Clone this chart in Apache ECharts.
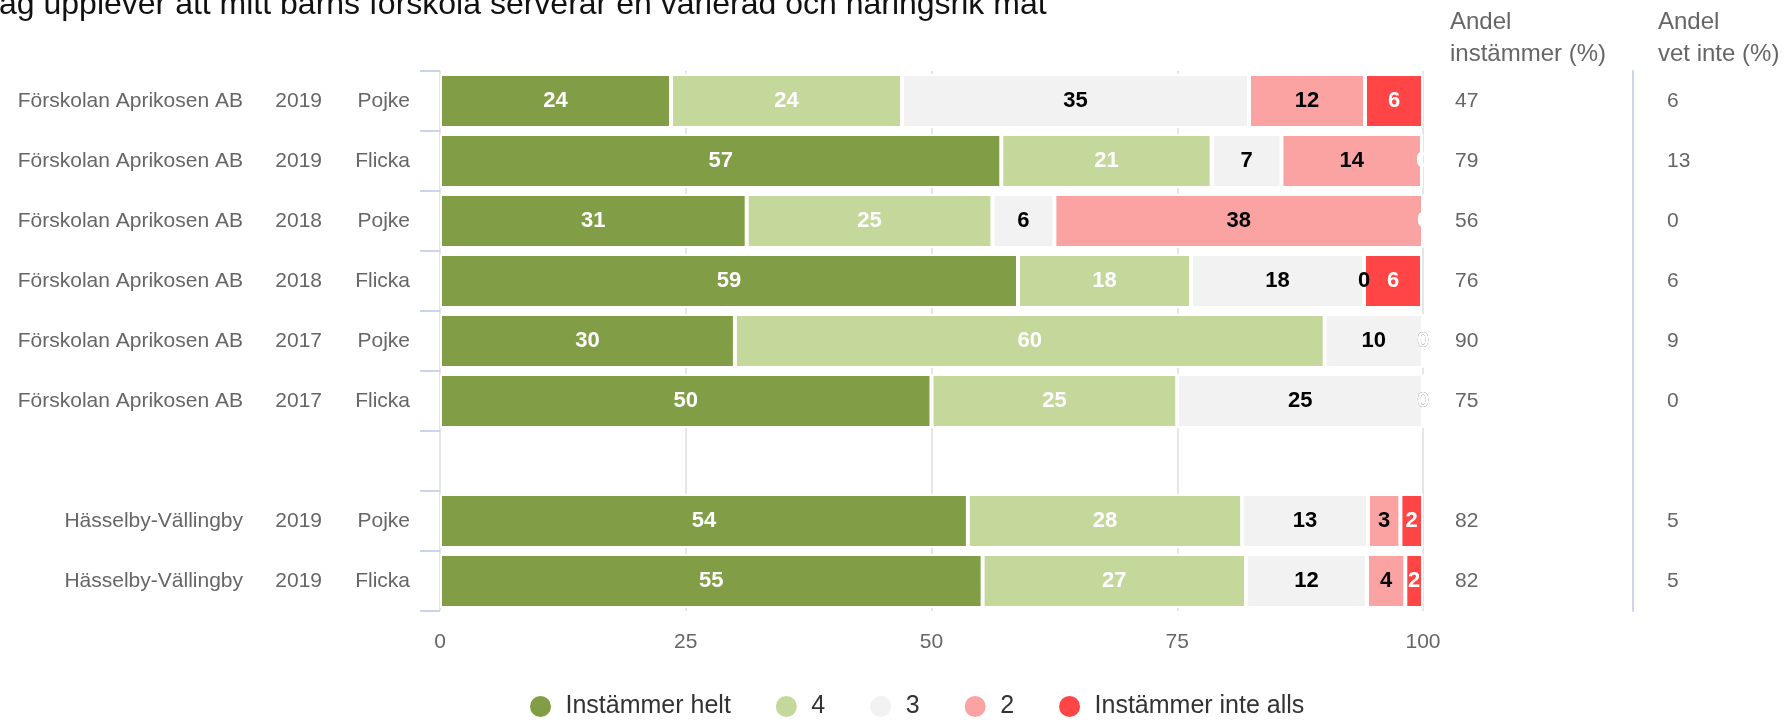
<!DOCTYPE html>
<html>
<head>
<meta charset="utf-8">
<script src="https://cdn.jsdelivr.net/npm/echarts@6/dist/echarts.min.js"></script>
<style>
html,body{margin:0;padding:0;background:#fff;}
#chart{width:1785px;height:720px;}
</style>
</head>
<body>
<div id="chart"></div>
<script>
// ---- data ----
const titleText = 'Jag upplever att mitt barns förskola serverar en varierad och näringsrik mat';
const schools = ['Förskolan Aprikosen AB','Förskolan Aprikosen AB','Förskolan Aprikosen AB','Förskolan Aprikosen AB','Förskolan Aprikosen AB','Förskolan Aprikosen AB','','Hässelby-Vällingby','Hässelby-Vällingby'];
const years = ['2019','2019','2018','2018','2017','2017','','2019','2019'];
const genders = ['Pojke','Flicka','Pojke','Flicka','Pojke','Flicka','','Pojke','Flicka'];
const seriesNames = ['Instämmer helt','4','3','2','Instämmer inte alls'];
const helt = [23.5, 57.1, 31.2, 58.8, 30, 50, null, 53.7, 55.2];
const v4   = [23.5, 21.4, 25, 17.6, 60, 25, null, 27.9, 26.8];
const v3   = [35.3, 7.1, 6.3, 17.6, 10, 25, null, 12.8, 12.3];
const v2   = [11.8, 14.3, 37.5, 0, 0, 0, null, 3.3, 3.9];
const inte = [5.9, 0, 0, 5.9, 0, 0, null, 2.3, 1.8];
const andelInstammer = ['47','79','56','76','90','75','','82','82'];
const andelVetInte = ['6','13','0','6','9','0','','5','5'];
const xTicks = {min: 0, max: 100, interval: 25};

// ---- chart ----
const colors = ['#819d45','#c5d89c','#f2f2f2','#faa3a2','#ff4545'];
const labelColors = ['#ffffff','#ffffff','#000000','#000000','#ffffff'];
const values = [helt, v4, v3, v2, inte];
const FONT = 'Liberation Sans, Arial, sans-serif';
const cats = schools.map((s, i) => String(i));

const chart = echarts.init(document.getElementById('chart'), null, {renderer: 'canvas'});
chart.setOption({
  animation: false,
  textStyle: {fontFamily: FONT},
  title: [
    {text: titleText, left: -17, top: -11, padding: 0,
     textStyle: {fontSize: 32, fontWeight: 'normal', color: '#111', fontFamily: FONT}},
    {text: 'Andel\ninstämmer (%)', left: 1450, top: 6, padding: 0,
     textStyle: {fontSize: 24, fontWeight: 'normal', color: '#666', lineHeight: 32, fontFamily: FONT}},
    {text: 'Andel\nvet inte (%)', left: 1658, top: 6, padding: 0,
     textStyle: {fontSize: 24, fontWeight: 'normal', color: '#666', lineHeight: 32, fontFamily: FONT}}
  ],
  legend: {
    data: seriesNames, icon: 'circle', itemWidth: 40, itemHeight: 23, itemGap: 43,
    left: 528, top: 694, padding: 0,
    textStyle: {fontSize: 25, color: '#333', fontFamily: FONT}
  },
  grid: {left: 440, right: 362, top: 71, bottom: 109, containLabel: false},
  xAxis: {
    type: 'value', min: xTicks.min, max: xTicks.max, interval: xTicks.interval,
    axisLine: {show: false}, axisTick: {show: false},
    splitLine: {show: true, lineStyle: {color: '#e6e6e6', width: 2}},
    axisLabel: {fontSize: 21, color: '#666', margin: 21, fontFamily: FONT}
  },
  yAxis: [
    {
      type: 'category', data: cats, inverse: true,
      axisLine: {show: false},
      axisTick: {show: true, length: 20, lineStyle: {color: '#ccd6eb', width: 2}},
      axisLabel: {
        margin: 30, fontSize: 21, color: '#666', fontFamily: FONT,
        formatter: (v, i) => schools[i] ? '{a|' + schools[i] + '}{b|' + years[i] + '}{c|' + genders[i] + '}' : '',
        rich: {
          a: {width: 243, align: 'right', fontSize: 21, color: '#666', fontFamily: FONT},
          b: {width: 79, align: 'right', fontSize: 21, color: '#666', fontFamily: FONT},
          c: {width: 88, align: 'right', fontSize: 21, color: '#666', fontFamily: FONT}
        }
      }
    },
    {
      type: 'category', data: andelInstammer, inverse: true, position: 'right', offset: 0,
      axisLine: {show: false}, axisTick: {show: false},
      axisLabel: {margin: 32, fontSize: 21, color: '#666', align: 'left', fontFamily: FONT}
    },
    {
      type: 'category', data: andelVetInte, inverse: true, position: 'right', offset: 210,
      axisLine: {show: true, lineStyle: {color: '#ccd6eb', width: 2}}, axisTick: {show: false},
      axisLabel: {margin: 34, fontSize: 21, color: '#666', align: 'left', fontFamily: FONT}
    }
  ],
  series: seriesNames.map((name, k) => ({
    name: name, type: 'bar', stack: 'total', yAxisIndex: 0,
    barWidth: 54,
    data: values[k],
    itemStyle: {color: colors[k], borderColor: '#ffffff', borderWidth: 2},
    label: {
      show: true, position: 'inside', fontSize: 22, fontWeight: 'bold',
      color: labelColors[k], textBorderWidth: 0, fontFamily: FONT,
      formatter: p => (p.value === null || p.value === undefined) ? '' : String(Math.round(p.value))
    }
  }))
});
</script>
</body>
</html>
